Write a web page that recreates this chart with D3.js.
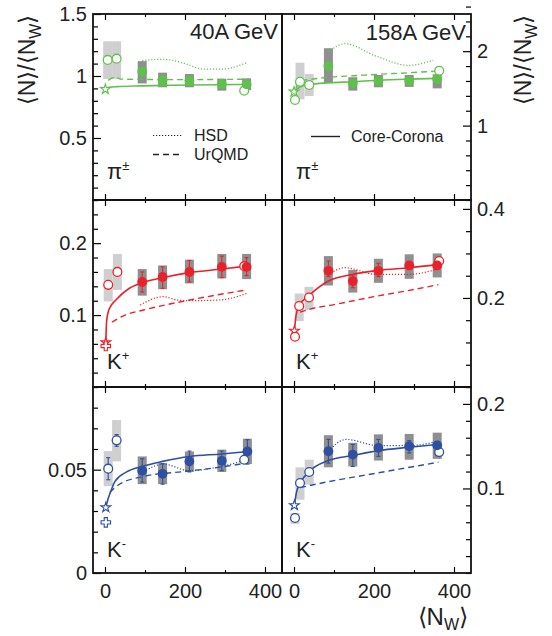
<!DOCTYPE html>
<html><head><meta charset="utf-8">
<script src="https://cdn.jsdelivr.net/npm/d3@7"></script>
<style>
body{margin:0;background:#fff}
svg{display:block;font-family:"Liberation Sans",Arial,Helvetica,sans-serif}
</style>
</head><body>
<svg id="c" width="552" height="636"></svg>
<script>
// ---------------- DATA ----------------
// x-axis ticks (<N_W>)
const xMajorTicks = [0, 200, 400];
const xMinorTicks = [100, 300];
const xTickLabels = ["0", "200", "400"];
const energies = ["40A GeV", "158A GeV"];
const legendModels = ["HSD", "UrQMD", "Core-Corona"];

// Rows: particle species
const species = [{name: "\u03C0", sup: "\u00B1"}, {name: "K", sup: "+"}, {name: "K", sup: "-"}];

// y-axis ranges, tick steps and labelled ticks
const yMaxPi40 = 1.5,  yStepPi40 = 0.1,  yLabPi40 = [0.5, 1, 1.5];
const yMaxPi158 = 2.5, yStepPi158 = 0.2, yLabPi158 = [1, 2];
const yMaxKp40 = 0.26, yStepKp40 = 0.02, yLabKp40 = [0.1, 0.2];
const yMaxKp158 = 0.42, yStepKp158 = 0.05, yLabKp158 = [0.2, 0.4];
const yMaxKm40 = 0.09, yStepKm40 = 0.01, yLabKm40 = [0, 0.05];
const yMaxKm158 = 0.22, yStepKm158 = 0.02, yLabKm158 = [0.1, 0.2];

// Filled points (Pb+Pb): [Nw, value, sysLo, sysHi, statLo, statHi]
const pi40Filled = [[93,1.035,0.94,1.12],[144,0.968,0.909,1.027],[211,0.962,0.909,1.016],[292,0.933,0.882,0.978],[354,0.933,0.887,0.981]];
const pi158Filled = [[86,1.80,1.57,2.04],[147,1.568,1.47,1.65],[211,1.60,1.515,1.68],[288,1.604,1.52,1.68],[358,1.626,1.50,1.69]];
const kp40Filled = [[93,0.146,0.127,0.164,0.132,0.160],[144,0.153,0.136,0.169,0.137,0.167],[211,0.160,0.144,0.177,0.146,0.176],[292,0.167,0.151,0.185,0.152,0.182],[354,0.167,0.150,0.185,0.155,0.180]];
const kp158Filled = [[86,0.261,0.228,0.294,0.248,0.283],[147,0.238,0.212,0.263,0.223,0.252],[211,0.261,0.234,0.288,0.248,0.278],[288,0.273,0.243,0.298,0.266,0.280],[358,0.273,0.246,0.300,0.265,0.283]];
const km40Filled = [[93,0.0495,0.043,0.0564,0.044,0.0553],[144,0.048,0.043,0.0532,0.043,0.0529],[211,0.054,0.0489,0.0588,0.0489,0.059],[292,0.0543,0.0489,0.0597,0.0495,0.059],[356,0.0588,0.0527,0.065,0.0527,0.0645]];
const km158Filled = [[86,0.144,0.125,0.163,0.130,0.158],[147,0.140,0.126,0.154,0.126,0.152],[211,0.148,0.133,0.164,0.138,0.158],[288,0.150,0.134,0.1645,0.142,0.1565],[358,0.151,0.135,0.166,0.145,0.155]];

// Open points (C+C, Si+Si, p+p, central): [Nw, value, sysLo, sysHi, statLo, statHi]
const pi40Open = [[6.7,1.13,0.976,1.28],[29,1.14,0.976,1.28],[348,0.882]];
const pi158Open = [[15,1.59,1.354,1.845],[38,1.546,1.398,1.694],[2.5,1.344],[363,1.738]];
const kp40Open = [[8,0.142,0.119,0.164],[31,0.160,0.135,0.185],[348,0.168]];
const kp158Open = [[13,0.182,0.148,0.210],[37.5,0.201,0.173,0.225],[2.5,0.113],[363,0.283]];
const km40Open = [[8,0.0505,0.042,0.059,0.0451,0.0558],[29,0.0642,0.054,0.074,0.0613,0.067],[348,0.0548]];
const km158Open = [[15,0.1065,0.0867,0.125],[38,0.1195,0.1045,0.134],[2.5,0.065,0.058,0.071],[363,0.143]];

// Star (p+p) and cross markers: [Nw, value]
const pi40Star = [[1,0.893]], pi158Star = [[0,1.456]];
const kp40Star = [[2,0.062]], kp158Star = [[1,0.126]];
const km40Star = [[2,0.0317]], km158Star = [[1,0.080]];
const kp40Cross = [[2,0.057]], km40Cross = [[2,0.0245]];

// Core-Corona curves
const pi40CC = [[1,0.893],[10,0.908],[30,0.914],[93,0.92],[150,0.924],[211,0.927],[292,0.93],[360,0.932]];
const pi158CC = [[0,1.46],[15,1.52],[38,1.55],[86,1.575],[147,1.59],[211,1.61],[288,1.625],[358,1.635]];
const kp40CC = [[2,0.062],[4,0.091],[10,0.108],[29,0.122],[60,0.137],[93,0.145],[144,0.152],[211,0.159],[292,0.164],[354,0.168]];
const kp158CC = [[1,0.126],[5,0.16],[13,0.183],[37,0.205],[86,0.238],[147,0.253],[211,0.262],[288,0.268],[360,0.275]];
const km40CC = [[2,0.0317],[8,0.036],[15,0.0398],[25,0.0443],[54,0.0489],[93,0.0516],[144,0.054],[211,0.0564],[292,0.0576],[356,0.0588]];
const km158CC = [[1,0.080],[6,0.095],[15,0.106],[38,0.12],[86,0.133],[147,0.139],[211,0.1447],[288,0.1487],[358,0.152]];

// UrQMD curves
const pi40UrQMD = [[8,0.965],[25,0.99],[40,0.975],[93,0.972],[150,0.971],[211,0.971],[292,0.972],[360,0.975]];
const pi158UrQMD = [[5,1.50],[15,1.60],[40,1.62],[86,1.65],[150,1.67],[211,1.69],[288,1.71],[361,1.735]];
const kp40UrQMD = [[17,0.090],[50,0.100],[96,0.107],[150,0.114],[203,0.120],[280,0.128],[354,0.135]];
const kp158UrQMD = [[15,0.168],[40,0.175],[100,0.185],[200,0.203],[300,0.219],[361,0.230]];
const km40UrQMD = [[12,0.039],[34,0.0427],[96,0.0467],[203,0.0492],[280,0.051],[354,0.0532]];
const km158UrQMD = [[15,0.101],[86,0.108],[205,0.118],[361,0.131]];

// HSD curves
const pi40HSD = [[93,1.125],[146,1.135],[200,1.10],[245,1.056],[292,1.056],[354,1.107]];
const pi158HSD = [[86,1.99],[127,2.10],[207,1.93],[286,1.81],[348,1.88]];
const kp40HSD = [[88,0.114],[146,0.1256],[180,0.121],[211,0.120],[287,0.121],[354,0.130]];
const kp158HSD = [[86,0.252],[127,0.268],[205,0.253],[286,0.253],[361,0.265]];
const km40HSD = [[96,0.0489],[146,0.0527],[211,0.0495],[292,0.0516],[354,0.0548]];
const km158HSD = [[86,0.144],[130,0.158],[211,0.1506],[288,0.1506],[361,0.156]];

// ---------------- LAYOUT / STYLE ----------------
const colors = ["#5fc04c", "#e8212a", "#2f4fa2"];
const colX = [93, 282], colW = 189;
const rowY = [14, 200, 387, 573];
const xDomain = [-30, 442.5];

const panels = [
  {r:0,c:0,max:yMaxPi40,step:yStepPi40,lab:yLabPi40,filled:pi40Filled,open:pi40Open,star:pi40Star,cross:[],cc:pi40CC,u:pi40UrQMD,h:pi40HSD},
  {r:0,c:1,max:yMaxPi158,step:yStepPi158,lab:yLabPi158,filled:pi158Filled,open:pi158Open,star:pi158Star,cross:[],cc:pi158CC,u:pi158UrQMD,h:pi158HSD},
  {r:1,c:0,max:yMaxKp40,step:yStepKp40,lab:yLabKp40,filled:kp40Filled,open:kp40Open,star:kp40Star,cross:kp40Cross,cc:kp40CC,u:kp40UrQMD,h:kp40HSD},
  {r:1,c:1,max:yMaxKp158,step:yStepKp158,lab:yLabKp158,filled:kp158Filled,open:kp158Open,star:kp158Star,cross:[],cc:kp158CC,u:kp158UrQMD,h:kp158HSD},
  {r:2,c:0,max:yMaxKm40,step:yStepKm40,lab:yLabKm40,filled:km40Filled,open:km40Open,star:km40Star,cross:km40Cross,cc:km40CC,u:km40UrQMD,h:km40HSD},
  {r:2,c:1,max:yMaxKm158,step:yStepKm158,lab:yLabKm158,filled:km158Filled,open:km158Open,star:km158Star,cross:[],cc:km158CC,u:km158UrQMD,h:km158HSD}
];

const svg = d3.select("#c");

panels.forEach(p => {
  const x0 = colX[p.c], y0 = rowY[p.r], y1 = rowY[p.r + 1];
  const col = colors[p.r];
  const x = d3.scaleLinear().domain(xDomain).range([x0, x0 + colW]);
  const y = d3.scaleLinear().domain([0, p.max]).range([y1, y0]);
  const g = svg.append("g");

  // systematic boxes for open points (light gray)
  g.selectAll(".lb").data(p.open.filter(d => d.length >= 4)).join("rect")
    .attr("x", d => x(d[0]) - 4.5).attr("width", 9)
    .attr("y", d => y(d[3])).attr("height", d => y(d[2]) - y(d[3]))
    .attr("fill", "#cfcfcf");
  // systematic boxes for filled points (dark gray)
  g.selectAll(".db").data(p.filled).join("rect")
    .attr("x", d => x(d[0]) - 4.5).attr("width", 9)
    .attr("y", d => y(d[3])).attr("height", d => y(d[2]) - y(d[3]))
    .attr("fill", "#8f8f8f");

  const line = d3.line().x(d => x(d[0])).y(d => y(d[1])).curve(d3.curveMonotoneX);
  g.append("path").attr("d", line(p.h)).attr("fill", "none").attr("stroke", col)
    .attr("stroke-width", 1.2).attr("stroke-dasharray", "1.2,1.8");
  g.append("path").attr("d", line(p.u)).attr("fill", "none").attr("stroke", col)
    .attr("stroke-width", 1.4).attr("stroke-dasharray", "6,4");
  g.append("path").attr("d", line(p.cc)).attr("fill", "none").attr("stroke", col)
    .attr("stroke-width", 1.6);

  // statistical error bars
  const withErr = p.filled.concat(p.open).filter(d => d.length >= 6);
  withErr.forEach(d => {
    const cx = x(d[0]);
    g.append("line").attr("x1", cx).attr("x2", cx).attr("y1", y(d[4])).attr("y2", y(d[5]))
      .attr("stroke", col).attr("stroke-width", 1.1);
    [d[4], d[5]].forEach(v => g.append("line").attr("x1", cx - 2).attr("x2", cx + 2)
      .attr("y1", y(v)).attr("y2", y(v)).attr("stroke", col).attr("stroke-width", 1.1));
  });

  // star and cross markers
  g.selectAll(".st").data(p.star).join("path")
    .attr("transform", d => `translate(${x(d[0])},${y(d[1])})`)
    .attr("d", d3.symbol(d3.symbolStar, 30)).attr("fill", "#fff").attr("stroke", col).attr("stroke-width", 1.1);
  g.selectAll(".cr").data(p.cross).join("path")
    .attr("transform", d => `translate(${x(d[0])},${y(d[1])})`)
    .attr("d", d3.symbol(d3.symbolCross, 50)).attr("fill", "#fff").attr("stroke", col).attr("stroke-width", 1.1);
  // open circles
  g.selectAll(".oc").data(p.open).join("circle")
    .attr("cx", d => x(d[0])).attr("cy", d => y(d[1])).attr("r", 4.4)
    .attr("fill", "#fff").attr("stroke", col).attr("stroke-width", 1.3);
  // filled circles
  g.selectAll(".fc").data(p.filled).join("circle")
    .attr("cx", d => x(d[0])).attr("cy", d => y(d[1])).attr("r", 4.9).attr("fill", col);

  // ---- axes ----
  const minor = d3.range(0, Math.round(p.max / p.step) + 1).map(i => +(i * p.step).toFixed(4)).filter(v => p.lab.indexOf(v) < 0);
  const left = p.c === 0;
  const yAx = left ? d3.axisLeft : d3.axisRight;
  const ax = left ? x0 : x0 + colW;
  const gMin = g.append("g").attr("transform", `translate(${ax},0)`)
    .call(yAx(y).tickValues(minor).tickSizeInner(-5).tickSizeOuter(0).tickFormat(""));
  const gMaj = g.append("g").attr("transform", `translate(${ax},0)`)
    .call(yAx(y).tickValues(p.lab).tickSizeInner(-8).tickSizeOuter(0).tickPadding(6).tickFormat(v => String(v)));
  [gMin, gMaj].forEach(a => { a.select(".domain").remove(); a.selectAll("line").attr("stroke", "#000").attr("stroke-width", 1.2); });
  gMaj.selectAll("text").attr("font-size", 20).attr("fill", "#222").attr("font-family", "Liberation Sans, Arial, sans-serif");

  const bottomRow = p.r === 2;
  [["bottom", y1], ["top", y0]].forEach(([side, yy]) => {
    const axf = side === "bottom" ? d3.axisBottom : d3.axisTop;
    const a1 = g.append("g").attr("transform", `translate(0,${yy})`)
      .call(axf(x).tickValues(xMajorTicks).tickSizeInner(-6).tickSizeOuter(0).tickPadding(11)
        .tickFormat((v, i) => (side === "bottom" && bottomRow) ? xTickLabels[i] : ""));
    const a2 = g.append("g").attr("transform", `translate(0,${yy})`)
      .call(axf(x).tickValues(xMinorTicks).tickSizeInner(-3).tickSizeOuter(0).tickFormat(""));
    [a1, a2].forEach(a => { a.select(".domain").remove(); a.selectAll("line").attr("stroke", "#000").attr("stroke-width", 1.2); });
    a1.selectAll("text").attr("font-size", 20).attr("fill", "#222").attr("font-family", "Liberation Sans, Arial, sans-serif");
  });

  // frame
  g.append("rect").attr("x", x0).attr("y", y0).attr("width", colW).attr("height", y1 - y0)
    .attr("fill", "none").attr("stroke", "#111").attr("stroke-width", 1.8);

  // species label
  const sp = species[p.r];
  const lt = g.append("text").attr("x", x0 + 14).attr("y", p.r === 0 ? 179 : (p.r === 1 ? 369 : 557))
    .attr("font-size", 22).attr("fill", "#222");
  lt.append("tspan").text(sp.name);
  lt.append("tspan").attr("dy", -9).attr("font-size", 13).text(sp.sup);
});

// energy labels
svg.append("text").attr("x", 278).attr("y", 39).attr("text-anchor", "end").attr("font-size", 22).attr("fill", "#222").text(energies[0]);
svg.append("text").attr("x", 466).attr("y", 40).attr("text-anchor", "end").attr("font-size", 22).attr("fill", "#222").text(energies[1]);

// legends
svg.append("line").attr("x1", 153).attr("x2", 183).attr("y1", 135.5).attr("y2", 135.5)
  .attr("stroke", "#222").attr("stroke-width", 1.1).attr("stroke-dasharray", "1.2,1.8");
svg.append("text").attr("x", 194).attr("y", 141).attr("font-size", 16).attr("fill", "#222").text(legendModels[0]);
svg.append("line").attr("x1", 153).attr("x2", 183).attr("y1", 154.5).attr("y2", 154.5)
  .attr("stroke", "#222").attr("stroke-width", 1.3).attr("stroke-dasharray", "6,4");
svg.append("text").attr("x", 194).attr("y", 160).attr("font-size", 16).attr("fill", "#222").text(legendModels[1]);
svg.append("line").attr("x1", 311).attr("x2", 340).attr("y1", 136.5).attr("y2", 136.5)
  .attr("stroke", "#222").attr("stroke-width", 1.4);
svg.append("text").attr("x", 351).attr("y", 142).attr("font-size", 16).attr("fill", "#222").text(legendModels[2]);

// axis titles
function yTitle(xb) {
  const t = svg.append("text").attr("transform", `translate(${xb},60) rotate(-90)`)
    .attr("text-anchor", "middle").attr("font-size", 23).attr("fill", "#222");
  t.append("tspan").text("\u27E8N\u27E9/\u27E8N");
  t.append("tspan").attr("dy", 6).attr("font-size", 16).text("W");
  t.append("tspan").attr("dy", -6).text("\u27E9");
}
yTitle(35);
yTitle(531);
const xt = svg.append("text").attr("x", 468).attr("y", 625).attr("text-anchor", "end").attr("font-size", 24).attr("fill", "#222");
xt.append("tspan").text("\u27E8N");
xt.append("tspan").attr("dy", 5).attr("font-size", 16).text("W");
xt.append("tspan").attr("dy", -5).text("\u27E9");
</script>
</body></html>
